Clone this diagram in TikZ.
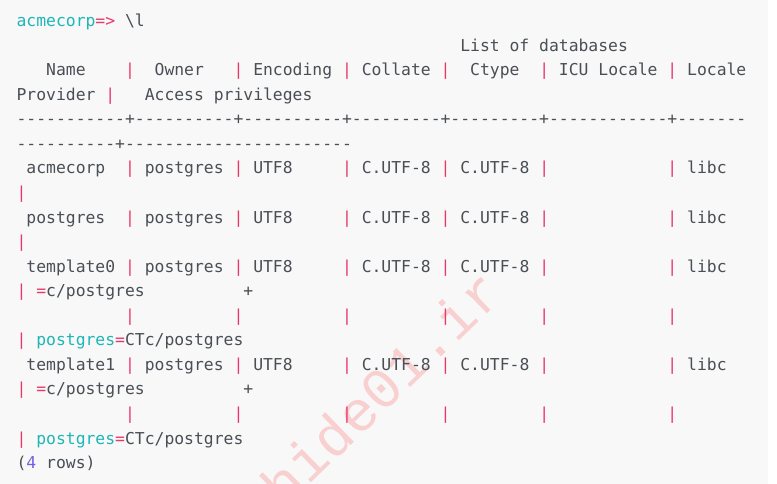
\documentclass[tikz,border=0pt]{standalone}
\usepackage{fontspec}
\newfontfamily\termfont{DejaVu Sans Mono}
\newfontfamily\wmfont{Liberation Mono}
\definecolor{bgcol}{HTML}{F8F8F8}
\definecolor{txtcol}{HTML}{4A4F55}
\definecolor{pipecol}{HTML}{E8386A}
\definecolor{tealcol}{HTML}{1EB6B6}
\definecolor{numcol}{HTML}{7B5BE0}
\definecolor{wmcol}{HTML}{F9D0D0}
\newcommand\pip{\textcolor{pipecol}{|}}
\newcommand\eqr{\textcolor{pipecol}{=}}
\newcommand\tl[1]{\textcolor{tealcol}{#1}}
\tikzset{
  term/.style={anchor=base west, inner sep=0pt, outer sep=0pt, text=txtcol,
    font=\termfont\fontsize{16.38}{20}\selectfont},
  wmark/.style={text=wmcol, inner sep=0pt, font=\wmfont\fontsize{57}{64}\selectfont}
}
\begin{document}
\begin{tikzpicture}[x=1pt,y=1pt]
\useasboundingbox (0,0) rectangle (777,484);
\fill[white] (0,0) rectangle (777,484);
\fill[bgcol] (0,0) rectangle (768.3,484);
\def\xz{16.6}
\def\cw{9.86}
% watermark
\begin{scope}
\clip (0,0) rectangle (777,484);
\node[wmark, rotate=44] (wm) at (381,96) {hide01.ir};
\end{scope}
% lines
\node[term] (l0) at (\xz, 484-26.7) {\tl{acmecorp}\textcolor{pipecol}{=>}~\textbackslash l};
\node[term] (l1) at (\xz+45*\cw, 484-26.7-1*24.55) {List of databases};
\node[term] (l2) at (\xz, 484-26.7-2*24.55) {~~~Name~~~~\pip~~Owner~~~\pip~Encoding~\pip~Collate~\pip~~Ctype~~\pip~ICU~Locale~\pip~Locale};
\node[term] (l3) at (\xz, 484-26.7-3*24.55) {Provider~\pip~~~Access~privileges};
\node[term] (l4) at (\xz, 484-26.7-4*24.55) {-{}-{}-{}-{}-{}-{}-{}-{}-{}-{}-+-{}-{}-{}-{}-{}-{}-{}-{}-{}-+-{}-{}-{}-{}-{}-{}-{}-{}-{}-+-{}-{}-{}-{}-{}-{}-{}-{}-+-{}-{}-{}-{}-{}-{}-{}-{}-+-{}-{}-{}-{}-{}-{}-{}-{}-{}-{}-{}-+-{}-{}-{}-{}-{}-{}-};
\node[term] (l5) at (\xz, 484-26.7-5*24.55) {-{}-{}-{}-{}-{}-{}-{}-{}-{}-+-{}-{}-{}-{}-{}-{}-{}-{}-{}-{}-{}-{}-{}-{}-{}-{}-{}-{}-{}-{}-{}-{}-};
\node[term] (l6) at (\xz, 484-26.7-6*24.55) {~acmecorp~~\pip~postgres~\pip~UTF8~~~~~\pip~C.UTF-8~\pip~C.UTF-8~\pip~~~~~~~~~~~~\pip~libc};
\node[term] (l7) at (\xz, 484-26.7-7*24.55) {\pip};
\node[term] (l8) at (\xz, 484-26.7-8*24.55) {~postgres~~\pip~postgres~\pip~UTF8~~~~~\pip~C.UTF-8~\pip~C.UTF-8~\pip~~~~~~~~~~~~\pip~libc};
\node[term] (l9) at (\xz, 484-26.7-9*24.55) {\pip};
\node[term] (l10) at (\xz, 484-26.7-10*24.55) {~template0~\pip~postgres~\pip~UTF8~~~~~\pip~C.UTF-8~\pip~C.UTF-8~\pip~~~~~~~~~~~~\pip~libc};
\node[term] (l11) at (\xz, 484-26.7-11*24.55) {\pip~\eqr c/postgres~~~~~~~~~~+};
\node[term] (l12) at (\xz, 484-26.7-12*24.55) {~~~~~~~~~~~\pip~~~~~~~~~~\pip~~~~~~~~~~\pip~~~~~~~~~\pip~~~~~~~~~\pip~~~~~~~~~~~~\pip};
\node[term] (l13) at (\xz, 484-26.7-13*24.55) {\pip~\tl{postgres}\eqr CTc/postgres};
\node[term] (l14) at (\xz, 484-26.7-14*24.55) {~template1~\pip~postgres~\pip~UTF8~~~~~\pip~C.UTF-8~\pip~C.UTF-8~\pip~~~~~~~~~~~~\pip~libc};
\node[term] (l15) at (\xz, 484-26.7-15*24.55) {\pip~\eqr c/postgres~~~~~~~~~~+};
\node[term] (l16) at (\xz, 484-26.7-16*24.55) {~~~~~~~~~~~\pip~~~~~~~~~~\pip~~~~~~~~~~\pip~~~~~~~~~\pip~~~~~~~~~\pip~~~~~~~~~~~~\pip};
\node[term] (l17) at (\xz, 484-26.7-17*24.55) {\pip~\tl{postgres}\eqr CTc/postgres};
\node[term] (l18) at (\xz, 484-26.7-18*24.55) {(\textcolor{numcol}{4}~rows)};
\end{tikzpicture}
\end{document}
